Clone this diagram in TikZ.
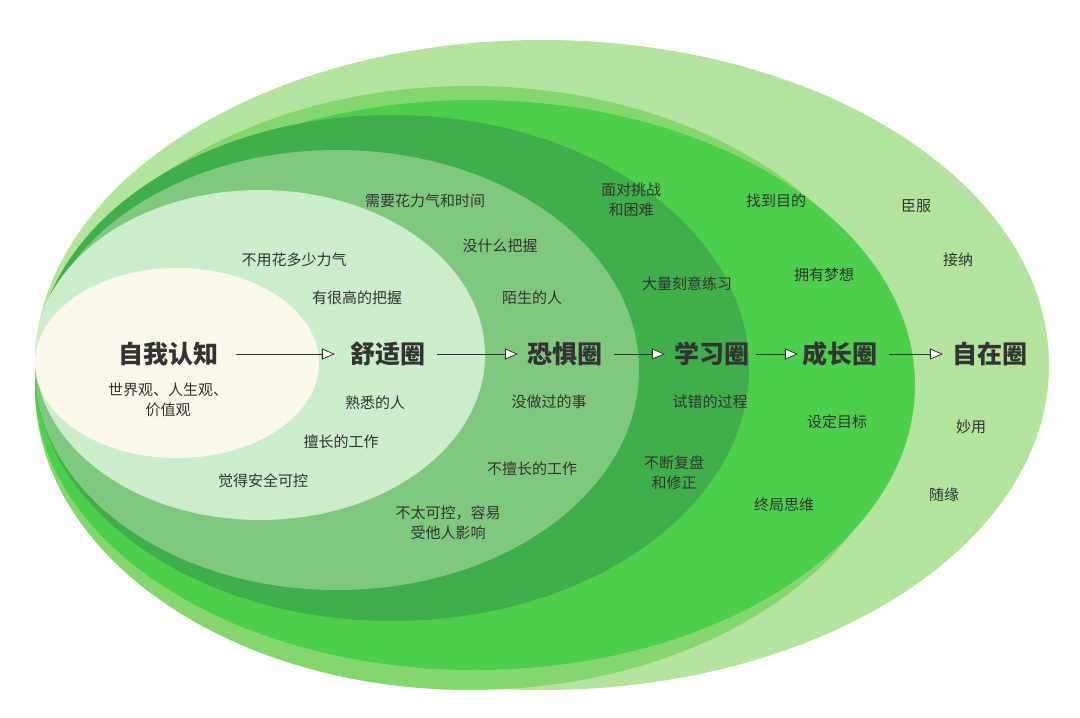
\documentclass[tikz,border=0pt]{standalone}
\usepackage{fontspec}
\setmainfont{Noto Sans CJK SC}
\usetikzlibrary{arrows.meta}
\definecolor{cOut}{HTML}{B3E39C}
\definecolor{cMid}{HTML}{86D670}
\definecolor{cGrow}{HTML}{4DCF4D}
\definecolor{cLearn}{HTML}{40AE4A}
\definecolor{cFear}{HTML}{80C880}
\definecolor{cComf}{HTML}{CBEDCB}
\definecolor{cSelf}{HTML}{FBF8EA}
\definecolor{cTxt}{HTML}{333333}
\tikzset{
  zone/.style={font=\fontsize{25}{29}\selectfont\bfseries,text=cTxt},
  note/.style={font=\fontsize{15}{20}\selectfont,text=cTxt,align=center},
  flow/.style={-{Triangle[open,length=13pt,width=11pt,fill=white]},line width=0.8pt,cTxt,shorten <=8pt,shorten >=6pt}
}
\begin{document}
\begin{tikzpicture}[x=1pt,y=-1pt]
\useasboundingbox (0,0) rectangle (1080,718);
\fill[white] (0,0) rectangle (1080,718);
%circles, outer to inner
\fill[cOut] (542,365) ellipse [x radius=507,y radius=325];
\fill[cMid] (470,388) ellipse [x radius=435,y radius=302];
\fill[cGrow] (475,385) ellipse [x radius=440,y radius=285];
\fill[cLearn] (392,368) ellipse [x radius=357,y radius=253];
\fill[cFear] (337,370) ellipse [x radius=302,y radius=220];
\fill[cComf] (260,355) ellipse [x radius=225,y radius=165];
\fill[cSelf] (177,363) ellipse [x radius=142,y radius=95];
%zone titles
\node[zone] (self) at (168,354) {自我认知};
\node[zone] (comf) at (388,354) {舒适圈};
\node[zone] (fear) at (565,354) {恐惧圈};
\node[zone] (learn) at (712,354) {学习圈};
\node[zone] (grow) at (840,354) {成长圈};
\node[zone] (free) at (990,354) {自在圈};
%arrows
\draw[flow,shorten <=14pt,shorten >=12pt] (self) -- (comf);
\draw[flow] (comf) -- (fear);
\draw[flow] (fear) -- (learn);
\draw[flow,shorten <=3pt,shorten >=1pt] (learn) -- (grow);
\draw[flow] (grow) -- (free);
%self
\node[note] (s1) at (168,400) {世界观、人生观、\\价值观};
%comfort
\node[note] (c1) at (294,260) {不用花多少力气};
\node[note] (c2) at (357,298) {有很高的把握};
\node[note] (c3) at (375,403) {熟悉的人};
\node[note] (c4) at (341,442) {擅长的工作};
\node[note] (c5) at (263,481) {觉得安全可控};
%fear
\node[note] (f1) at (425,201) {需要花力气和时间};
\node[note] (f2) at (500,246) {没什么把握};
\node[note] (f3) at (532,298) {陌生的人};
\node[note] (f4) at (549,402) {没做过的事};
\node[note] (f5) at (532,469) {不擅长的工作};
\node[note] (f6) at (448,523) {不太可控，容易\\受他人影响};
%learn
\node[note] (l1) at (631,200) {面对挑战\\和困难};
\node[note] (l2) at (687,284) {大量刻意练习};
\node[note] (l3) at (710,402) {试错的过程};
\node[note] (l4) at (674,473) {不断复盘\\和修正};
%grow
\node[note] (g1) at (776,201) {找到目的};
\node[note] (g2) at (824,275) {拥有梦想};
\node[note] (g3) at (837,422) {设定目标};
\node[note] (g4) at (784,505) {终局思维};
%free
\node[note] (z1) at (916,206) {臣服};
\node[note] (z2) at (958,260) {接纳};
\node[note] (z3) at (971,427) {妙用};
\node[note] (z4) at (944,495) {随缘};
\end{tikzpicture}
\end{document}
